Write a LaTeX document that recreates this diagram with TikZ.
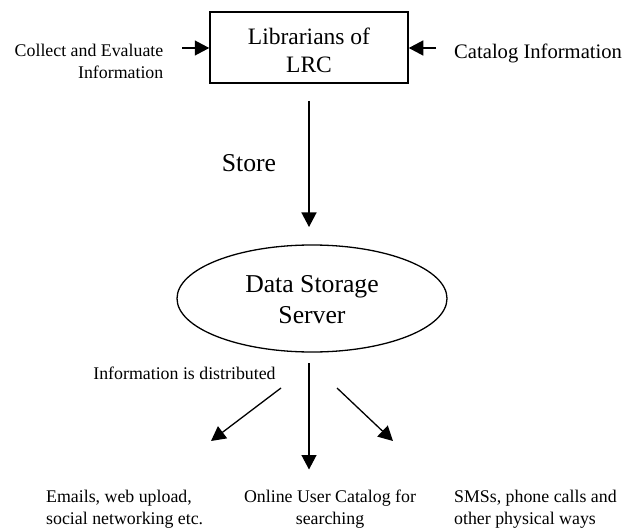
\documentclass[tikz,border=0pt]{standalone}
\usepackage{fontspec}
\setmainfont{Liberation Serif}
\usetikzlibrary{shapes.geometric,arrows.meta}
\newcommand{\offsettext}[2]{\raisebox{#1}[0pt][0pt]{\begin{tabular}{@{}c@{}}#2\end{tabular}}}
\tikzset{
  link/.style={draw=black,line width=1.3bp,-{Triangle[length=14.5bp,width=15bp]}},
  boxnode/.style={draw=black,line width=1.5bp,minimum width=198bp,minimum height=71bp,inner sep=0pt,font=\fontsize{23.6}{28}\selectfont},
  ovalnode/.style={ellipse,draw=black,line width=1.3bp,minimum width=270bp,minimum height=107bp,inner sep=0pt,font=\fontsize{25.8}{31}\selectfont},
  smalltext/.style={inner sep=0pt,font=\fontsize{17.9}{22}\selectfont},
  midtext/.style={inner sep=0pt,font=\fontsize{20.7}{25}\selectfont},
  bigtext/.style={inner sep=0pt,font=\fontsize{25.8}{31}\selectfont}
}
\begin{document}
\begin{tikzpicture}[x=1bp,y=-1bp]
\useasboundingbox (0,0) rectangle (637,529);
\node[boxnode] (lib) at (309,47.5) {\offsettext{-12bp}{Librarians of\\LRC}};
\node[ovalnode] (srv) at (312,298.5) {\offsettext{-9.5bp}{Data Storage\\Server}};
\coordinate (c1) at (182,48);
\coordinate (c2) at (436,48);
\coordinate (s1) at (309,101);
\coordinate (s2) at (309,227);
\coordinate (m1) at (309,363);
\coordinate (m2) at (309,469.5);
\coordinate (l1) at (281,388);
\coordinate (l2) at (211,441);
\coordinate (r1) at (337,388);
\coordinate (r2) at (393,441);
\draw[link] (c1) -- (lib.west |- c1);
\draw[link] (c2) -- (lib.east |- c2);
\draw[link] (s1) -- (s2);
\draw[link] (m1) -- (m2);
\draw[link] (l1) -- (l2);
\draw[link] (r1) -- (r2);
\node[smalltext,anchor=east,align=right] (collect) at (163.5,61.5) {Collect and Evaluate\\Information};
\node[midtext,anchor=west] (cat) at (454,53) {Catalog Information};
\node[bigtext] (store) at (249,163) {Store};
\node[smalltext] (dist) at (184.5,373) {Information is distributed};
\node[smalltext,anchor=west,align=left] (emails) at (46,509.5) {Emails, web upload,\\social networking etc.};
\node[smalltext,align=center] (online) at (330,509.5) {Online User Catalog for\\searching};
\node[smalltext,anchor=west,align=left] (sms) at (454,509.5) {SMSs, phone calls and\\other physical ways};
\end{tikzpicture}
\end{document}
